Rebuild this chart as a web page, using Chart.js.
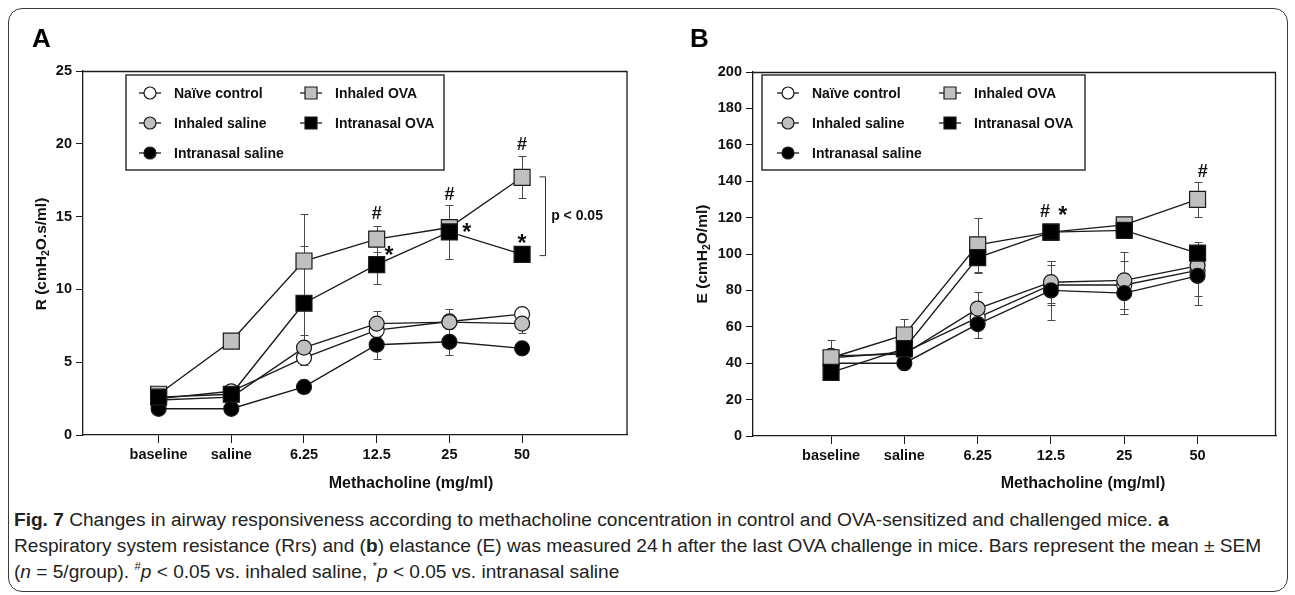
<!DOCTYPE html>
<html>
<head>
<meta charset="utf-8">
<title>Fig. 7 airway responsiveness</title>
<script src="https://cdn.jsdelivr.net/npm/chart.js@4.4.1/dist/chart.umd.min.js"></script>
<style>
  body { margin: 0; background: #fff; width: 1295px; height: 595px; overflow: hidden; position: relative; }
  #frame { position: absolute; left: 8px; top: 8px; width: 1278px; height: 582px; border: 1.5px solid #3a3a3a; border-radius: 14px; }
  #panelA { position: absolute; left: 0; top: 0; }
  #panelB { position: absolute; left: 640px; top: 0; }
  #caption { position: absolute; left: 14px; top: 507px; font-family: "Liberation Sans", Arial, sans-serif; font-size: 17px; line-height: 25.8px; color: #222; white-space: nowrap; }
  #caption b { font-weight: bold; }
  #caption sup { font-size: 0.6em; line-height: 0; vertical-align: 0.7em; }
</style>
</head>
<body>
<div id="frame"></div>
<canvas id="panelA" width="640" height="500"></canvas>
<canvas id="panelB" width="655" height="500"></canvas>
<div id="caption">
  <span id="cap1"><b>Fig. 7</b> Changes in airway responsiveness according to methacholine concentration in control and OVA-sensitized and challenged mice. <b>a</b></span><br>
  <span id="cap2">Respiratory system resistance (Rrs) and (<b>b</b>) elastance (E) was measured 24&#8201;h after the last OVA challenge in mice. Bars represent the mean ± SEM</span><br>
  <span id="cap3">(<i>n</i> = 5/group). <sup>#</sup><i>p</i> &lt; 0.05 vs. inhaled saline, <sup>*</sup><i>p</i> &lt; 0.05 vs. intranasal saline</span>
</div>
<script>
// categories
const concLabels = ["baseline", "saline", "6.25", "12.5", "25", "50"];
const groupNames = ["Naïve control", "Inhaled saline", "Intranasal saline", "Inhaled OVA", "Intranasal OVA"];

// panel A: resistance R (cmH2O.s/ml), mean
const rNaive     = [2.5, 3.0, 5.3, 7.2, 7.8, 8.3];
const rInhSaline = [2.4, 2.6, 6.0, 7.65, 7.75, 7.65];
const rInaSaline = [1.8, 1.8, 3.3, 6.2, 6.4, 5.95];
const rInhOva    = [2.8, 6.45, 11.95, 13.45, 14.25, 17.7];
const rInaOva    = [2.6, 2.8, 9.05, 11.7, 13.95, 12.4];
// panel A: SEM
const rNaiveSem     = [0.3, 0.3, 0.5, 0.5, 0.4, 0.4];
const rInhSalineSem = [0.3, 0.3, 0.9, 0.85, 0.9, 0.65];
const rInaSalineSem = [0.2, 0.2, 0.4, 0.95, 0.9, 0.4];
const rInhOvaSem    = [0.3, 0.4, 3.2, 0.9, 0.5, 1.45];
const rInaOvaSem    = [0.3, 0.4, 3.9, 1.35, 1.85, 0.4];
const rTicks = [0, 5, 10, 15, 20, 25];

// panel B: elastance E (cmH2O/ml), mean
const eNaive     = [43, 46, 65, 83, 83, 91];
const eInhSaline = [44, 45, 70, 84.5, 85.5, 93.5];
const eInaSaline = [40, 40, 61.5, 80, 78.5, 88];
const eInhOva    = [43, 55.5, 105, 112, 116, 130];
const eInaOva    = [35, 48, 98, 112, 113, 100.5];
// panel B: SEM
const eNaiveSem     = [4, 4, 6, 11, 13, 14];
const eInhSalineSem = [4, 5, 9, 11.5, 15.5, 6];
const eInaSalineSem = [3, 3, 7.5, 16, 11.3, 16];
const eInhOvaSem    = [9.6, 9, 15, 3, 3, 9.5];
const eInaOvaSem    = [4, 5, 8.5, 3, 3, 6];
const eTicks = [0, 20, 40, 60, 80, 100, 120, 140, 160, 180, 200];

// significance marks (x = dose index, y = value)
const marksA = [
  { x: 3, y: 15.25, t: "#" }, { x: 4, y: 16.6, t: "#" }, { x: 5, y: 20.05, t: "#" },
  { x: 3.17, y: 12.7, t: "*" }, { x: 4.24, y: 14.3, t: "*" }, { x: 5, y: 13.5, t: "*" }
];
const marksB = [
  { x: 2.92, y: 124, t: "#" }, { x: 3.16, y: 124, t: "*" }, { x: 5.07, y: 146, t: "#" }
];

const ink = "#1a1a1a";
const sansBold = "bold 14px 'Liberation Sans', Arial, sans-serif";

const groupStyle = [
  { shape: "circle", fill: "#ffffff" },
  { shape: "circle", fill: "#c0c0c0" },
  { shape: "circle", fill: "#000000" },
  { shape: "rect", fill: "#c0c0c0" },
  { shape: "rect", fill: "#000000" }
];

function buildSets(means, sems) {
  return means.map((m, g) => ({
    label: groupNames[g],
    data: m.map((v, i) => ({ x: i, y: v })),
    sem: sems[g],
    order: 4 - g,
    borderColor: ink,
    borderWidth: 1.4,
    tension: 0,
    fill: false,
    pointStyle: groupStyle[g].shape,
    pointRadius: groupStyle[g].shape === "rect" ? 11.3 : 7.5,
    pointBackgroundColor: groupStyle[g].fill,
    pointBorderColor: ink,
    pointBorderWidth: 1.2
  }));
}

// error bars behind every marker
const errorBars = {
  id: "errorBars",
  beforeDatasetsDraw(chart) {
    const { ctx, scales: { x, y } } = chart;
    ctx.save();
    ctx.strokeStyle = "#4a4a4a";
    ctx.lineWidth = 1;
    chart.data.datasets.forEach(ds => {
      ds.data.forEach((p, i) => {
        const e = ds.sem[i];
        if (!e) return;
        const px = Math.round(x.getPixelForValue(p.x)) + 0.5;
        const top = Math.round(y.getPixelForValue(p.y + e)) + 0.5;
        const bot = Math.round(y.getPixelForValue(p.y - e)) + 0.5;
        ctx.beginPath();
        ctx.moveTo(px, top); ctx.lineTo(px, bot);
        ctx.moveTo(px - 4, top); ctx.lineTo(px + 4, top);
        ctx.moveTo(px - 4, bot); ctx.lineTo(px + 4, bot);
        ctx.stroke();
      });
    });
    ctx.restore();
  }
};

// frame, legend, titles and marks
const decor = {
  id: "decor",
  afterDraw(chart, args, o) {
    const { ctx, chartArea: a, scales: { x, y } } = chart;
    ctx.save();

    // top and right edges of the plot box
    ctx.strokeStyle = ink;
    ctx.lineWidth = 1.3;
    ctx.beginPath();
    ctx.moveTo(a.left, a.top + 0.5);
    ctx.lineTo(a.right - 0.5, a.top + 0.5);
    ctx.lineTo(a.right - 0.5, a.bottom);
    ctx.stroke();

    // panel letter
    ctx.fillStyle = "#000";
    ctx.font = "bold 26px 'Liberation Sans', Arial, sans-serif";
    ctx.textAlign = "left";
    ctx.textBaseline = "alphabetic";
    ctx.fillText(o.letter, o.letterX, 47);

    // legend
    const lb = o.legendBox;
    ctx.strokeStyle = "#333";
    ctx.lineWidth = 1.5;
    ctx.strokeRect(lb[0], lb[1], lb[2] - lb[0], lb[3] - lb[1]);
    const slots = [[0, 0], [0, 1], [0, 2], [1, 0], [1, 1]];
    chart.data.datasets.forEach((ds, g) => {
      const mx = o.legendCols[slots[g][0]];
      const my = o.legendRows[slots[g][1]];
      ctx.strokeStyle = ink;
      ctx.lineWidth = 1.3;
      ctx.beginPath();
      ctx.moveTo(mx - 11, my); ctx.lineTo(mx + 11, my);
      ctx.stroke();
      ctx.fillStyle = ds.pointBackgroundColor;
      ctx.lineWidth = 1.2;
      ctx.beginPath();
      if (ds.pointStyle === "rect") ctx.rect(mx - 6, my - 6, 12, 12);
      else ctx.arc(mx, my, 6, 0, Math.PI * 2);
      ctx.fill();
      ctx.stroke();
      ctx.fillStyle = "#111";
      ctx.font = sansBold;
      ctx.textBaseline = "middle";
      ctx.fillText(ds.label, mx + 24, my + 1);
    });

    // x title
    ctx.fillStyle = "#111";
    ctx.font = "bold 16px 'Liberation Sans', Arial, sans-serif";
    ctx.textAlign = "center";
    ctx.textBaseline = "middle";
    ctx.fillText("Methacholine (mg/ml)", o.xTitleX, 484);

    // y title with subscript
    const big = "bold 15.5px 'Liberation Sans', Arial, sans-serif";
    const small = "bold 10.5px 'Liberation Sans', Arial, sans-serif";
    const parts = [[o.yTitle[0], big, 0], ["2", small, 4], [o.yTitle[1], big, 0]];
    let total = 0;
    parts.forEach(p => { ctx.font = p[1]; total += ctx.measureText(p[0]).width; });
    ctx.translate(o.yTitleX, 254);
    ctx.rotate(-Math.PI / 2);
    ctx.textAlign = "left";
    ctx.textBaseline = "middle";
    let cx = -total / 2;
    parts.forEach(p => {
      ctx.font = p[1];
      ctx.fillText(p[0], cx, p[2]);
      cx += ctx.measureText(p[0]).width;
    });
    ctx.setTransform(1, 0, 0, 1, 0, 0);

    // significance marks
    ctx.textAlign = "center";
    ctx.textBaseline = "alphabetic";
    o.marks.forEach(m => {
      const px = x.getPixelForValue(m.x);
      const py = y.getPixelForValue(m.y);
      if (m.t === "*") {
        ctx.font = "bold 23px 'Liberation Sans', Arial, sans-serif";
        ctx.fillText(m.t, px, py + 13);
      } else {
        ctx.font = "bold 18px 'Liberation Sans', Arial, sans-serif";
        ctx.fillText(m.t, px, py + 6.5);
      }
    });

    // bracket and p value
    if (o.bracket) {
      const b = o.bracket;
      const bx = Math.round(x.getPixelForValue(b.x)) + 0.5;
      const tx = x.getPixelForValue(b.tick);
      const y1 = y.getPixelForValue(b.y1);
      const y2 = y.getPixelForValue(b.y2);
      ctx.strokeStyle = "#333";
      ctx.lineWidth = 1;
      ctx.beginPath();
      ctx.moveTo(tx, y1); ctx.lineTo(bx, y1); ctx.lineTo(bx, y2); ctx.lineTo(tx, y2);
      ctx.stroke();
      ctx.font = sansBold;
      ctx.textAlign = "left";
      ctx.textBaseline = "middle";
      ctx.fillText(b.text, x.getPixelForValue(b.textX), y.getPixelForValue(b.textY));
    }
    ctx.restore();
  }
};

function makePanel(id, means, sems, yTicks, cfg) {
  return new Chart(document.getElementById(id), {
    type: "line",
    data: { datasets: buildSets(means, sems) },
    options: {
      responsive: false,
      animation: false,
      events: [],
      layout: { padding: { top: cfg.top, right: cfg.right, left: 0, bottom: 0 } },
      scales: {
        x: {
          type: "linear",
          min: cfg.xMin,
          max: cfg.xMax,
          afterBuildTicks: s => { s.ticks = concLabels.map((_, i) => ({ value: i })); },
          afterFit: s => { s.height = cfg.xHeight; },
          ticks: {
            callback: v => concLabels[v],
            autoSkip: false, maxRotation: 0, padding: 3, color: "#111",
            font: { family: "'Liberation Sans', Arial, sans-serif", size: 14.5, weight: "bold" }
          },
          grid: { drawOnChartArea: false, tickLength: 8, color: ink, lineWidth: 1 },
          border: { color: ink, width: 1.3 }
        },
        y: {
          min: yTicks[0],
          max: yTicks[yTicks.length - 1],
          afterBuildTicks: s => { s.ticks = yTicks.map(v => ({ value: v })); },
          afterFit: s => { s.width = cfg.yWidth; },
          ticks: {
            padding: 4, color: "#111",
            font: { family: "'Liberation Sans', Arial, sans-serif", size: 14.5, weight: "bold" }
          },
          grid: { drawOnChartArea: false, tickLength: 7, color: ink, lineWidth: 1 },
          border: { color: ink, width: 1.3 }
        }
      },
      plugins: {
        legend: { display: false },
        tooltip: { enabled: false },
        decor: cfg.decor
      }
    },
    plugins: [errorBars, decor]
  });
}

makePanel("panelA",
  [rNaive, rInhSaline, rInaSaline, rInhOva, rInaOva],
  [rNaiveSem, rInhSalineSem, rInaSalineSem, rInhOvaSem, rInaOvaSem],
  rTicks,
  {
    top: 71, right: 8, xMin: -1.04, xMax: 6.45, xHeight: 65, yWidth: 83,
    decor: {
      letter: "A", letterX: 32,
      legendBox: [126, 75, 444, 170], legendCols: [150, 311], legendRows: [93, 123, 153],
      xTitleX: 411, yTitleX: 42, yTitle: ["R (cmH", "O.s/ml)"],
      marks: marksA,
      bracket: { x: 5.31, tick: 5.24, y1: 17.73, y2: 12.32, text: "p < 0.05", textX: 5.40, textY: 15.03 }
    }
  });

makePanel("panelB",
  [eNaive, eInhSaline, eInaSaline, eInhOva, eInaOva],
  [eNaiveSem, eInhSalineSem, eInaSalineSem, eInhOvaSem, eInaOvaSem],
  eTicks,
  {
    top: 72, right: 19, xMin: -1.065, xMax: 6.07, xHeight: 64, yWidth: 113,
    decor: {
      letter: "B", letterX: 50,
      legendBox: [122, 75, 445, 170], legendCols: [148, 310], legendRows: [93, 123, 153],
      xTitleX: 443, yTitleX: 63, yTitle: ["E (cmH", "O/ml)"],
      marks: marksB,
      bracket: null
    }
  });

// fit caption width to the figure
const cap2 = document.getElementById("cap2");
const w = cap2.getBoundingClientRect().width;
document.getElementById("caption").style.fontSize = (17 * 1248 / w).toFixed(2) + "px";
</script>
</body>
</html>
